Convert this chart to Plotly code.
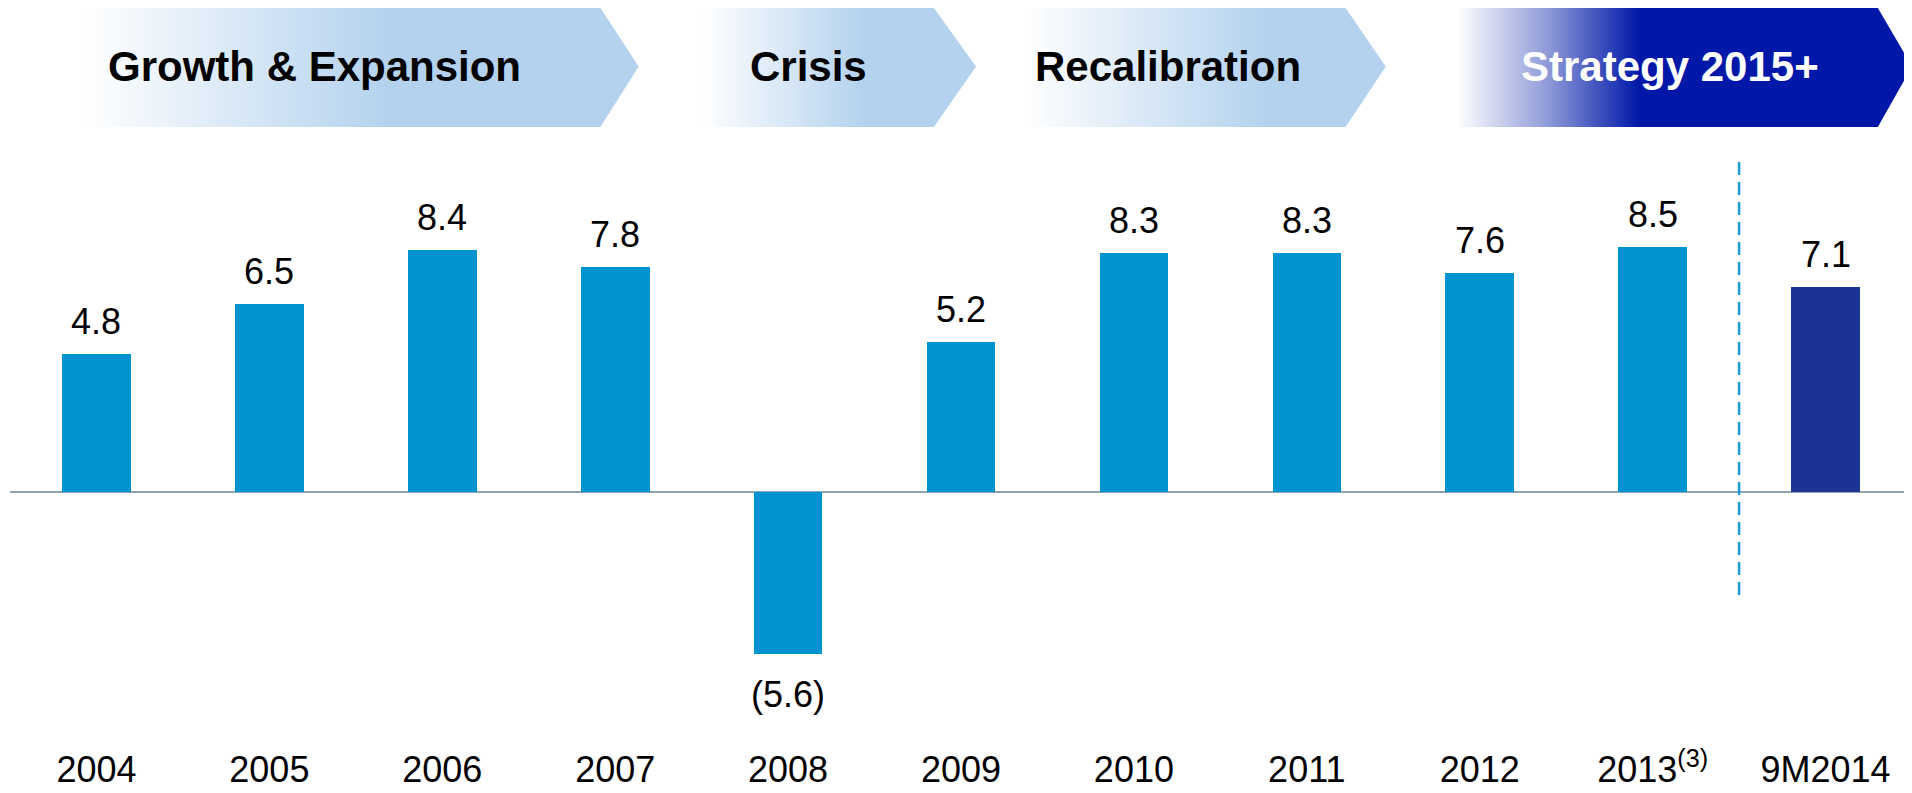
import plotly.graph_objects as go

# ---- data ----
categories = ["2004", "2005", "2006", "2007", "2008", "2009", "2010", "2011", "2012", "2013", "9M2014"]
tick_labels = ["2004", "2005", "2006", "2007", "2008", "2009", "2010", "2011", "2012",
               "2013<sup>(3)</sup>", "9M2014"]
values = [4.8, 6.5, 8.4, 7.8, -5.6, 5.2, 8.3, 8.3, 7.6, 8.5, 7.1]
phase_labels = ["Growth & Expansion", "Crisis", "Recalibration", "Strategy 2015+"]

# ---- style ----
FONT = "Arial, Liberation Sans, sans-serif"
BAR_LIGHT = "#0093D1"
BAR_DARK = "#1B3394"
bar_colors = [BAR_LIGHT] * 10 + [BAR_DARK]

# The page body adds an 8px offset; layout is expressed in page pixels and compensated.
OFF = 8
PAGE_W, PAGE_H = 1912, 793
W, H = PAGE_W - OFF, PAGE_H - OFF
PLOT_L, PLOT_R = 10, 1904        # page px
PLOT_T, PLOT_B = OFF, 745        # page px
ML, MR = PLOT_L - OFF, PAGE_W - PLOT_R - OFF
MT, MB = PLOT_T - OFF, PAGE_H - PLOT_B
PX_PER_UNIT = 28.85
ZERO_Y = 492                     # page px of the zero line
y_top = (ZERO_Y - PLOT_T) / PX_PER_UNIT
y_bot = -(PLOT_B - ZERO_Y) / PX_PER_UNIT

idx = list(range(len(categories)))

fig = go.Figure()

fig.add_trace(go.Bar(
    x=idx, y=values, width=0.397,
    marker=dict(color=bar_colors, line=dict(width=0)),
    hoverinfo="skip", showlegend=False,
))

# value labels
for i, v in zip(idx, values):
    txt = f"{v:.1f}" if v >= 0 else f"({abs(v):.1f})"
    fig.add_annotation(
        x=i, y=v, xref="x", yref="y", text=txt, showarrow=False,
        yanchor="bottom" if v >= 0 else "top",
        yshift=10 if v >= 0 else -18,
        font=dict(family=FONT, size=36, color="#000000"),
    )

# dashed separator between 2013 and 9M2014
fig.add_shape(type="line", xref="x", yref="y", x0=9.5, x1=9.5, y0=11.44, y1=-3.6,
              line=dict(color="#1E9BD7", width=2.5, dash="13px,7px"))

# ---- phase banner (page-pixel overlay axes) ----
LIGHT = "#B4D2EE"
DARK = "#0018A8"
arrows = [
    # x_start, x_rect_end, x_tip, text_center, colorscale, text color
    (82, 598, 636, 313, [[0, "#FFFFFF"], [0.55, LIGHT], [1, LIGHT]], "#000000"),
    (698, 930, 972, 805, [[0, "#FFFFFF"], [0.59, LIGHT], [1, LIGHT]], "#000000"),
    (1019, 1340, 1380, 1163, [[0, "#FFFFFF"], [0.67, LIGHT], [1, LIGHT]], "#000000"),
    (1451, 1870, 1904, 1663, [[0, "#FFFFFF"], [0.2, "#8E9AD8"], [0.4, DARK], [1, DARK]], "#FFFFFF"),
]
top, bot, mid = 8, 127, 66.5
for (xs, xr, xt, tc, cs, tcol), lab in zip(arrows, phase_labels):
    fig.add_trace(go.Scatter(
        x=[xs, xr, xt, xr, xs, xs], y=[top, top, mid, bot, bot, top],
        xaxis="x2", yaxis="y2", mode="lines", line=dict(width=0),
        fill="toself", fillgradient=dict(type="horizontal", colorscale=cs),
        hoverinfo="skip", showlegend=False,
    ))
    fig.add_annotation(
        x=tc, y=mid, xref="x2", yref="y2", text=lab, showarrow=False,
        font=dict(family=FONT, size=42, color=tcol, weight="bold"),
    )

fig.update_layout(
    width=W, height=H,
    margin=dict(l=ML, r=MR, t=MT, b=MB, pad=0),
    paper_bgcolor="white", plot_bgcolor="white",
    showlegend=False,
    bargap=0,
    xaxis=dict(
        range=[-0.5, 10.5],
        tickmode="array", tickvals=idx, ticktext=tick_labels,
        showgrid=False, showline=False, zeroline=False, ticks="",
        tickfont=dict(family=FONT, size=36, color="#000000"),
        fixedrange=True,
    ),
    yaxis=dict(
        range=[y_bot, y_top], showticklabels=False, showgrid=False,
        zeroline=True, zerolinecolor="#8FA2B6", zerolinewidth=2, showline=False,
        fixedrange=True,
    ),
    xaxis2=dict(overlaying="x", anchor="y2", range=[PLOT_L, PLOT_R], visible=False, fixedrange=True),
    yaxis2=dict(overlaying="y", anchor="x2", range=[PLOT_B, PLOT_T], visible=False, fixedrange=True),
)

fig.write_html("out.html")
